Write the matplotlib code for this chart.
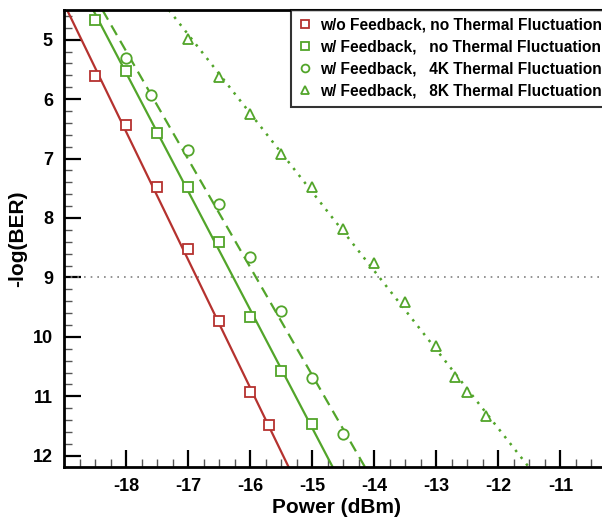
import matplotlib.pyplot as plt

plt.rcParams['font.family'] = ['Liberation Sans', 'DejaVu Sans']
plt.rcParams['font.weight'] = 'bold'
plt.rcParams['axes.unicode_minus'] = False

# measured points (Power in dBm, -log(BER))
p_nofb = [-18.5, -18.0, -17.5, -17.0, -16.5, -16.0, -15.7]
b_nofb = [5.61, 6.44, 7.47, 8.52, 9.73, 10.92, 11.49]

p_fb = [-18.5, -18.0, -17.5, -17.0, -16.5, -16.0, -15.5, -15.0]
b_fb = [4.66, 5.52, 6.57, 7.47, 8.40, 9.66, 10.57, 11.47]

p_4k = [-18.0, -17.6, -17.0, -16.5, -16.0, -15.5, -15.0, -14.5]
b_4k = [5.30, 5.93, 6.86, 7.76, 8.65, 9.57, 10.69, 11.64]

p_8k = [-17.0, -16.5, -16.0, -15.5, -15.0, -14.5, -14.0, -13.5, -13.0, -12.7, -12.5, -12.2]
b_8k = [4.98, 5.63, 6.25, 6.92, 7.48, 8.18, 8.75, 9.42, 10.16, 10.68, 10.93, 11.33]

# fitted lines (end points)
fit_nofb_x = [-18.95, -15.38]
fit_fb_x = [-18.53, -14.67]
fit_4k_x = [-18.38, -14.15]
fit_8k_x = [-17.31, -11.51]
fit_y = [4.5, 12.19]

labels = ["w/o Feedback, no Thermal Fluctuation",
          "w/ Feedback,   no Thermal Fluctuation",
          "w/ Feedback,   4K Thermal Fluctuation",
          "w/ Feedback,   8K Thermal Fluctuation"]

red = '#b5322f'
green = '#52a52a'

fig = plt.figure(figsize=(6.02, 5.21), dpi=100)
ax = fig.add_axes([64 / 602, 54 / 521, 546 / 602, 457 / 521])

ax.axhline(9, color='gray', ls=(0, (1, 3)), lw=1.2)

ax.plot(fit_nofb_x, fit_y, color=red, lw=1.6, ls='-')
ax.plot(fit_fb_x, fit_y, color=green, lw=1.6, ls='-')
ax.plot(fit_4k_x, fit_y, color=green, lw=1.6, ls=(0, (5, 3)))
ax.plot(fit_8k_x, fit_y, color=green, lw=1.8, ls=(0, (1, 2.5)))

mk = dict(ls='none', ms=7.5, mew=1.3, mfc='white')
ax.plot(p_nofb, b_nofb, marker='s', mec=red, label=labels[0], **mk)
ax.plot(p_fb, b_fb, marker='s', mec=green, label=labels[1], **mk)
ax.plot(p_4k, b_4k, marker='o', mec=green, label=labels[2], **mk)
ax.plot(p_8k, b_8k, marker='^', mec=green, label=labels[3], **mk)

ax.set_xlim(-19.0, -10.2)
ax.set_ylim(12.19, 4.5)
ax.set_xticks([-18, -17, -16, -15, -14, -13, -12, -11])
ax.set_xticks([x / 4 for x in range(-75, -40)], minor=True)
ax.set_yticks([5, 6, 7, 8, 9, 10, 11, 12])
ax.set_yticks([y / 5 for y in range(23, 61)], minor=True)
ax.tick_params(which='major', direction='in', length=12, width=1.6,
               labelsize=13, pad=8)
ax.tick_params(which='minor', direction='in', length=6, width=1.0,
               color='#555555')
for t in ax.get_xticklabels() + ax.get_yticklabels():
    t.set_fontweight('bold')

for s in ax.spines.values():
    s.set_linewidth(2)
ax.spines['right'].set_visible(False)

ax.set_xlabel('Power (dBm)', fontsize=15, fontweight='bold', labelpad=2)
ax.set_ylabel('-log(BER)', fontsize=15, fontweight='bold', labelpad=4)

leg = ax.legend(loc='upper right', fontsize=11.2, frameon=True, fancybox=False,
                edgecolor='black', handlelength=0.8, handletextpad=0.6,
                borderaxespad=0, labelspacing=0.45, borderpad=0.5,
                markerscale=0.75)
leg.get_frame().set_linewidth(1.5)

fig.savefig('out.png', dpi=100)
